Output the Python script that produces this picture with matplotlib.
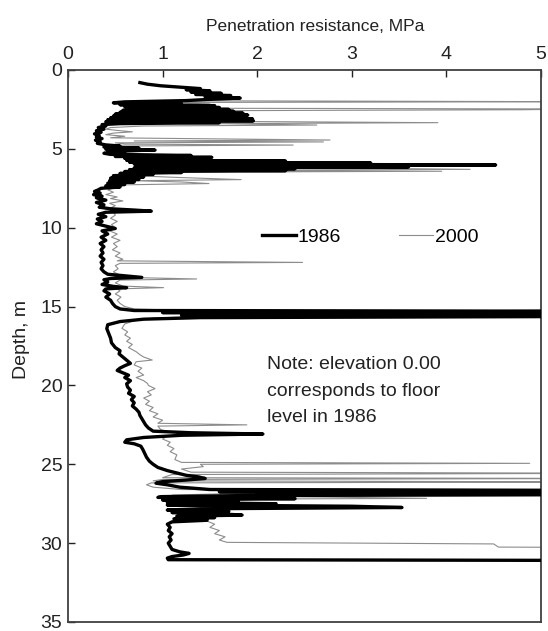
import numpy as np
import matplotlib
matplotlib.use("Agg")
import matplotlib.pyplot as plt

# CPT profile, 1986 survey (depth in m, cone resistance in MPa)
depth_1986 = [
    0.80, 0.90, 1.00, 1.10, 1.18, 1.25, 1.32, 1.40, 1.48, 1.55,
    1.62, 1.70, 1.78, 1.86, 1.94, 2.02, 2.08, 2.14, 2.20, 2.26,
    2.32, 2.38, 2.44, 2.50, 2.56, 2.62, 2.68, 2.74, 2.80, 2.86,
    2.92, 2.98, 3.04, 3.10, 3.16, 3.22, 3.28, 3.34, 3.40, 3.46,
    3.55, 3.65, 3.75, 3.85, 3.95, 4.05, 4.15, 4.25, 4.35, 4.45,
    4.55, 4.65, 4.75, 4.82, 4.88, 4.95, 5.02, 5.08, 5.14, 5.20,
    5.28, 5.35, 5.42, 5.48, 5.54, 5.60, 5.66, 5.72, 5.78, 5.84,
    5.90, 5.96, 6.02, 6.08, 6.14, 6.20, 6.26, 6.32, 6.38, 6.44,
    6.50, 6.56, 6.62, 6.70, 6.78, 6.86, 6.94, 7.02, 7.10, 7.18,
    7.26, 7.34, 7.42, 7.50, 7.60, 7.70, 7.80, 7.90, 8.00, 8.10,
    8.25, 8.40, 8.55, 8.70, 8.80, 8.88, 8.95, 9.02, 9.15, 9.30,
    9.45, 9.60, 9.75, 9.90, 10.05, 10.20, 10.40, 10.60, 10.80, 11.00,
    11.20, 11.40, 11.60, 11.80, 12.00, 12.20, 12.40, 12.60, 12.80, 12.95,
    13.05, 13.15, 13.22, 13.30, 13.45, 13.60, 13.72, 13.80, 13.88, 14.00,
    14.20, 14.40, 14.60, 14.80, 15.00, 15.15, 15.25, 15.30, 15.38, 15.46,
    15.54, 15.62, 15.70, 15.80, 15.95, 16.15, 16.40, 16.70, 17.00, 17.30,
    17.60, 17.80, 18.00, 18.20, 18.40, 18.60, 18.75, 18.90, 19.05, 19.20,
    19.35, 19.50, 19.70, 19.90, 20.10, 20.30, 20.50, 20.70, 20.90, 21.10,
    21.30, 21.50, 21.70, 21.90, 22.10, 22.30, 22.50, 22.70, 22.90, 23.00,
    23.08, 23.16, 23.30, 23.45, 23.60, 23.70, 23.85, 24.05, 24.30, 24.55,
    24.80, 25.00, 25.20, 25.40, 25.55, 25.70, 25.80, 25.90, 26.00, 26.10,
    26.20, 26.30, 26.45, 26.60, 26.66, 26.74, 26.80, 26.86, 26.92, 26.98,
    27.05, 27.10, 27.18, 27.26, 27.35, 27.42, 27.50, 27.58, 27.66, 27.74,
    27.82, 27.90, 27.98, 28.06, 28.14, 28.22, 28.30, 28.38, 28.46, 28.55,
    28.65, 28.80, 29.00, 29.20, 29.40, 29.60, 29.80, 30.00, 30.20, 30.40,
    30.55, 30.65, 30.75, 30.85, 30.95, 31.05, 31.10,
]
qc_1986 = [
    0.76, 0.84, 0.98, 1.22, 1.40, 1.25, 1.50, 1.30, 1.62, 1.35,
    1.72, 1.45, 1.82, 1.50, 1.25, 0.60, 0.48, 1.20, 0.55, 1.55,
    0.60, 1.60, 0.62, 1.70, 0.58, 1.75, 0.55, 1.85, 0.50, 1.90,
    0.48, 1.88, 0.45, 1.95, 0.42, 1.96, 0.40, 1.60, 0.55, 0.36,
    0.40, 0.32, 0.38, 0.30, 0.35, 0.28, 0.33, 0.30, 0.36, 0.29,
    0.34, 0.31, 0.40, 0.55, 0.38, 0.75, 0.40, 0.92, 0.42, 0.60,
    0.38, 0.45, 1.30, 0.50, 1.52, 0.60, 1.45, 0.62, 2.30, 0.65,
    3.20, 0.70, 4.52, 0.72, 3.60, 0.70, 2.40, 0.65, 2.30, 0.60,
    1.20, 0.55, 0.90, 0.48, 0.80, 0.45, 0.75, 0.44, 0.70, 0.42,
    0.60, 0.40, 0.55, 0.35, 0.32, 0.28, 0.34, 0.27, 0.36, 0.30,
    0.40, 0.30, 0.38, 0.33, 0.45, 0.70, 0.88, 0.40, 0.32, 0.40,
    0.31, 0.36, 0.30, 0.40, 0.50, 0.36, 0.42, 0.35, 0.40, 0.34,
    0.38, 0.35, 0.37, 0.34, 0.38, 0.35, 0.37, 0.35, 0.38, 0.42,
    0.60, 0.78, 0.45, 0.38, 0.42, 0.36, 0.48, 0.62, 0.40, 0.38,
    0.44, 0.40, 0.45, 0.47, 0.50, 0.55, 0.70, 6.00, 1.00, 6.00,
    1.20, 6.00, 1.40, 0.80, 0.55, 0.42, 0.41, 0.43, 0.45, 0.46,
    0.50, 0.55, 0.54, 0.58, 0.62, 0.66, 0.60, 0.55, 0.52, 0.58,
    0.64, 0.60, 0.66, 0.62, 0.63, 0.66, 0.64, 0.70, 0.67, 0.70,
    0.68, 0.72, 0.75, 0.76, 0.78, 0.80, 0.82, 0.85, 0.90, 1.30,
    2.06, 1.20, 0.80, 0.62, 0.60, 0.70, 0.77, 0.79, 0.81, 0.83,
    0.86, 0.90, 0.95, 1.05, 1.15, 1.25, 1.38, 1.45, 1.25, 1.00,
    0.93, 1.05, 1.18, 1.50, 6.00, 1.60, 6.00, 2.00, 6.00, 1.90,
    1.00, 0.95, 2.40, 1.00, 1.80, 1.05, 2.20, 1.05, 3.00, 3.53,
    1.40, 1.05, 1.70, 1.10, 1.60, 1.84, 1.15, 1.55, 1.12, 1.47,
    1.10, 1.05, 1.08, 1.06, 1.10, 1.07, 1.09, 1.06, 1.08, 1.10,
    1.18, 1.28, 1.22, 1.10, 1.05, 1.06, 6.00,
]

# CPT profile, 2000 survey
depth_2000 = [
    1.95, 2.01, 2.06, 2.15, 2.25, 2.35, 2.42, 2.47, 2.52, 2.58,
    2.70, 2.85, 3.00, 3.15, 3.25, 3.34, 3.40, 3.49, 3.55, 3.65,
    3.75, 3.85, 3.92, 4.00, 4.10, 4.20, 4.30, 4.38, 4.44, 4.50,
    4.56, 4.62, 4.70, 4.76, 4.82, 4.95, 5.05, 5.20, 5.35, 5.50,
    5.60, 5.70, 5.80, 5.90, 6.00, 6.10, 6.18, 6.30, 6.36, 6.42,
    6.48, 6.60, 6.70, 6.80, 6.95, 7.02, 7.10, 7.20, 7.28, 7.38,
    7.45, 7.60, 7.75, 7.90, 8.05, 8.15, 8.30, 8.45, 8.60, 8.75,
    8.90, 9.00, 9.20, 9.40, 9.60, 9.80, 10.00, 10.20, 10.40, 10.60,
    10.80, 11.00, 11.20, 11.40, 11.60, 11.80, 12.00, 12.10, 12.20, 12.26,
    12.40, 12.60, 12.80, 13.00, 13.15, 13.25, 13.32, 13.50, 13.70, 13.80,
    13.88, 14.00, 14.20, 14.40, 14.60, 14.80, 15.00, 15.15, 15.30, 15.38,
    15.50, 15.62, 15.72, 15.90, 16.10, 16.38, 16.60, 16.80, 17.00, 17.20,
    17.40, 17.60, 17.86, 18.05, 18.20, 18.39, 18.50, 18.70, 18.90, 19.10,
    19.34, 19.50, 19.70, 19.87, 20.00, 20.20, 20.40, 20.60, 20.80, 21.00,
    21.20, 21.40, 21.60, 21.80, 22.00, 22.20, 22.40, 22.50, 22.58, 22.80,
    23.00, 23.08, 23.20, 23.40, 23.60, 23.80, 24.00, 24.20, 24.40, 24.70,
    24.88, 24.94, 25.00, 25.15, 25.30, 25.50, 25.57, 25.65, 25.85, 25.90,
    25.96, 26.05, 26.12, 26.18, 26.30, 26.45, 26.60, 26.72, 26.82, 26.95,
    27.05, 27.16, 27.22, 27.35, 27.50, 27.65, 27.80, 28.00, 28.25, 28.45,
    28.60, 28.80, 29.00, 29.20, 29.40, 29.60, 29.80, 29.95, 30.05, 30.25,
    30.28,
]
qc_2000 = [
    1.20, 5.40, 1.00, 1.50, 0.80, 1.40, 0.90, 5.40, 4.82, 1.50,
    1.00, 1.60, 1.20, 1.80, 1.40, 3.91, 1.60, 2.63, 0.80, 0.45,
    0.40, 0.55, 0.68, 0.48, 0.40, 0.60, 0.45, 1.80, 2.77, 0.70,
    2.70, 0.50, 0.60, 2.38, 0.50, 0.45, 0.60, 0.50, 0.90, 1.00,
    1.30, 1.10, 1.60, 2.00, 2.40, 3.00, 2.40, 4.25, 1.20, 3.95,
    1.00, 0.80, 0.70, 1.10, 1.83, 0.70, 1.20, 1.49, 0.60, 0.55,
    0.50, 0.42, 0.48, 0.40, 0.52, 0.45, 0.58, 0.44, 0.50, 0.45,
    0.62, 0.48, 0.50, 0.45, 0.52, 0.46, 0.50, 0.44, 0.52, 0.46,
    0.55, 0.48, 0.52, 0.47, 0.55, 0.50, 0.58, 0.52, 2.48, 0.55,
    0.50, 0.53, 0.48, 0.55, 0.60, 1.36, 0.55, 0.50, 0.58, 1.01,
    0.52, 0.55, 0.50, 0.56, 0.52, 0.55, 0.60, 0.70, 1.50, 6.00,
    6.00, 1.52, 0.90, 0.70, 0.60, 0.57, 0.63, 0.60, 0.66, 0.62,
    0.68, 0.64, 0.72, 0.76, 0.80, 0.89, 0.72, 0.70, 0.78, 0.74,
    0.80, 0.72, 0.80, 0.84, 0.85, 0.92, 0.84, 0.88, 0.80, 0.86,
    0.82, 0.90, 0.86, 0.95, 0.90, 1.00, 0.95, 1.89, 0.95, 0.98,
    1.10, 1.60, 1.05, 1.00, 1.08, 1.05, 1.12, 1.08, 1.15, 1.13,
    1.20, 4.88, 1.40, 1.43, 1.20, 1.30, 6.00, 1.10, 1.00, 6.00,
    1.00, 0.90, 6.00, 0.88, 0.83, 0.90, 1.20, 6.00, 2.00, 1.10,
    2.30, 3.79, 1.20, 1.40, 2.00, 2.60, 1.40, 1.30, 1.40, 1.45,
    1.47, 1.55, 1.50, 1.60, 1.55, 1.66, 1.60, 1.68, 4.50, 4.55,
    6.00,
]

x_ticks = [0, 1, 2, 3, 4, 5]
y_ticks = [0, 5, 10, 15, 20, 25, 30, 35]
note = "Note: elevation 0.00\ncorresponds to floor\nlevel in 1986"

assert len(depth_1986) == len(qc_1986)
assert len(depth_2000) == len(qc_2000)

plt.rcParams["font.family"] = ["Liberation Sans", "DejaVu Sans"]

fig = plt.figure(figsize=(5.48, 6.31), dpi=100)
ax = fig.add_axes([68 / 548, 1 - 622 / 631, 473 / 548, 552 / 631])

ax.plot(qc_2000, depth_2000, color="#8c8c8c", lw=0.8, label="2000", zorder=2)
ax.plot(qc_1986, depth_1986, color="black", lw=2.4, label="1986", zorder=3)

ax.set_xlim(0, 5)
ax.set_ylim(35, 0)
ax.set_xticks(x_ticks)
ax.set_yticks(y_ticks)
ax.xaxis.tick_top()
ax.xaxis.set_label_position("top")
ax.tick_params(axis="x", direction="in", length=5, width=1, pad=5, labelsize=14, colors="#222222")
ax.tick_params(axis="y", direction="in", length=5, width=1, pad=4, labelsize=14, colors="#222222")
for spine in ax.spines.values():
    spine.set_color("#404040")
    spine.set_linewidth(1.3)

ax.set_xlabel("Penetration resistance, MPa", fontsize=12.5, color="#222222")
ax.xaxis.set_label_coords(0.522, 1.071)
ax.set_ylabel("Depth, m", fontsize=14, color="#222222")
ax.yaxis.set_label_coords(-0.080, 0.511)

handles, labels = ax.get_legend_handles_labels()
ax.legend(handles[::-1], labels[::-1], ncol=2, frameon=False, loc="center left",
          bbox_to_anchor=(0.410, 0.697), fontsize=14, handlelength=1.75,
          handletextpad=0.1, columnspacing=2.95, borderpad=0, borderaxespad=0)

ax.text(2.1, 18.15, note, fontsize=14, va="top", ha="left", linespacing=1.72, color="#222222")

fig.savefig("out.png", dpi=100)
